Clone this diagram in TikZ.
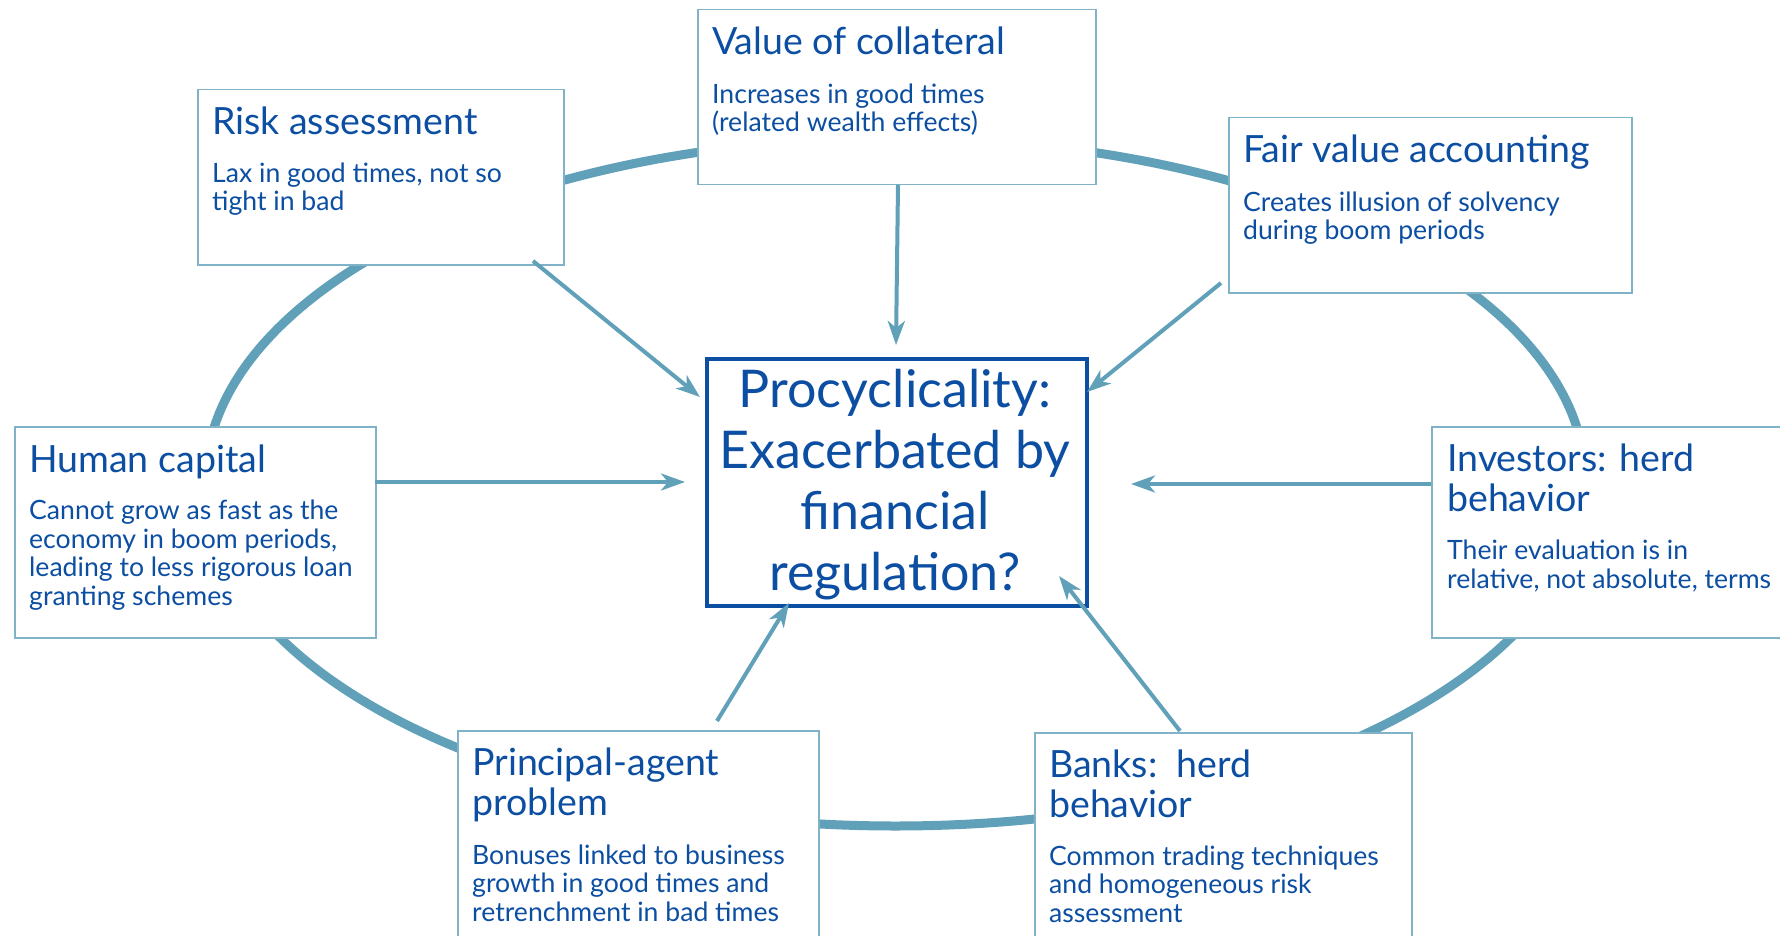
\documentclass[tikz,border=0pt]{standalone}
\usepackage{fontspec}
\setmainfont{Lato}
\usetikzlibrary{arrows.meta}
\definecolor{ringc}{HTML}{60A0B9}
\definecolor{txt}{HTML}{0C4EA2}
\definecolor{edgec}{HTML}{80B3C8}
\begin{document}
\begin{tikzpicture}[x=1pt,y=-1pt,
  box/.style={draw=edgec, line width=1.5pt, fill=white, anchor=north west, inner sep=0pt},
  ttl/.style={anchor=base west, inner sep=0pt, text=txt, font=\fontsize{37.5}{40}\selectfont, align=left},
  bdy/.style={anchor=base west, inner sep=0pt, text=txt, font=\fontsize{26.6}{28.4}\selectfont, align=left},
  arr/.style={draw=ringc, line width=4pt, -{Stealth[length=24pt,width=17pt,inset=7pt]}},
]
\useasboundingbox (0,0) rectangle (1780,936);
\fill[white] (0,0) rectangle (1780,936);
\draw[ringc, line width=9pt] (895.5,482) ellipse [x radius=690, y radius=344];

% boxes
\node[box, minimum width=398pt, minimum height=175pt] (coll) at (697,9) {};
\node[box, minimum width=366pt, minimum height=175pt] (risk) at (197,89) {};
\node[box, minimum width=403pt, minimum height=175pt] (fair) at (1228,117) {};
\node[box, minimum width=361pt, minimum height=211pt] (human) at (14,426) {};
\node[box, minimum width=380pt, minimum height=211pt] (inv) at (1431,426) {};
\node[box, minimum width=361pt, minimum height=230pt] (prin) at (457,730) {};
\node[box, minimum width=377pt, minimum height=230pt] (banks) at (1034,732) {};
\node[draw=txt, line width=4pt, fill=white, anchor=north west, inner sep=0pt,
      minimum width=380pt, minimum height=247pt] (center) at (705,357) {};

% texts (anchored at the baseline of their last line)
\node[ttl] (collT) at (712,55) {Value of collateral};
\node[bdy] (collB) at (712,132) {Increases in good times\\(related wealth effects)};
\node[ttl] (riskT) at (212,135) {Risk assessment};
\node[bdy] (riskB) at (212,211) {Lax in good times, not so\\tight in bad};
\node[ttl] (fairT) at (1243,163) {Fair value accounting};
\node[bdy] (fairB) at (1243,240) {Creates illusion of solvency\\during boom periods};
\node[ttl] (humanT) at (29,472) {Human capital};
\node[bdy] (humanB) at (29,605) {Cannot grow as fast as the\\economy in boom periods,\\leading to less rigorous loan\\granting schemes};
\node[ttl] (invT) at (1447,511) {Investors: herd\\behavior};
\node[bdy] (invB) at (1447,588) {Their evaluation is in\\relative, not absolute, terms};
\node[ttl] (prinT) at (472,815) {Principal-agent\\problem};
\node[bdy] (prinB) at (472,921) {Bonuses linked to business\\growth in good times and\\retrenchment in bad times};
\node[ttl] (banksT) at (1049,817) {Banks:\ \ herd\\behavior};
\node[bdy] (banksB) at (1049,922) {Common trading techniques\\and homogeneous risk\\assessment};
\node[anchor=base, inner sep=0pt, text=txt, font=\fontsize{52}{60.7}\selectfont, align=center]
  (centerT) at (895,590) {Procyclicality:\\Exacerbated by\\financial\\regulation?};

% arrow ends
\coordinate (collS) at (898,185);
\coordinate (collE) at (896,345);
\coordinate (riskS) at (533,261);
\coordinate (riskE) at (700,397);
\coordinate (fairS) at (1221,283);
\coordinate (fairE) at (1087,392);
\coordinate (humanS) at (375,482);
\coordinate (humanE) at (685,482);
\coordinate (invS) at (1431,484);
\coordinate (invE) at (1131,484);
\coordinate (prinS) at (717,721);
\coordinate (prinE) at (789,603);
\coordinate (banksS) at (1180,731);
\coordinate (banksE) at (1059,576);

\draw[arr] (collS) -- (collE);
\draw[arr] (riskS) -- (riskE);
\draw[arr] (fairS) -- (fairE);
\draw[arr] (humanS) -- (humanE);
\draw[arr] (invS) -- (invE);
\draw[arr] (prinS) -- (prinE);
\draw[arr] (banksS) -- (banksE);
\end{tikzpicture}
\end{document}
